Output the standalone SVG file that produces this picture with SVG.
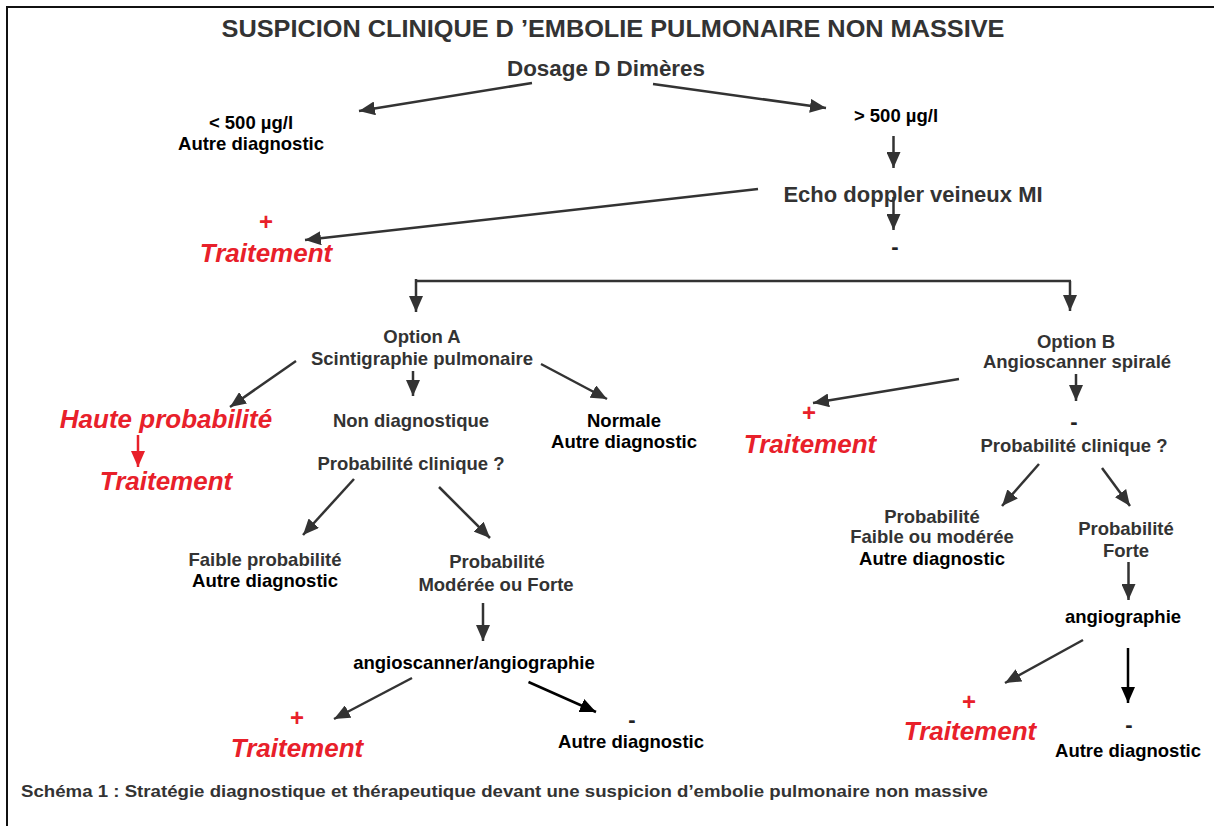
<svg xmlns="http://www.w3.org/2000/svg" width="1214" height="826" viewBox="0 0 1214 826">
<defs>
<marker id="ah" markerUnits="userSpaceOnUse" markerWidth="16" markerHeight="14" refX="16" refY="7" orient="auto"><path d="M0,0 L16,7 L0,14 z" fill="#333"/></marker>
<marker id="ahk" markerUnits="userSpaceOnUse" markerWidth="16" markerHeight="14" refX="16" refY="7" orient="auto"><path d="M0,0 L16,7 L0,14 z" fill="#000"/></marker>
<marker id="ahr" markerUnits="userSpaceOnUse" markerWidth="16" markerHeight="14" refX="16" refY="7" orient="auto"><path d="M0,0 L16,7 L0,14 z" fill="#e8202a"/></marker>
</defs>
<style>
text{font-family:"Liberation Sans",Arial,sans-serif;font-weight:bold;text-anchor:middle}
.g{fill:#333}
.k{fill:#000}
.n{font-size:18.5px}
.big{font-size:22px}
.red{fill:#e8202a;font-style:italic;font-size:26px}
.plus{fill:#e8202a;font-size:24px}
.dash{font-size:22px;fill:#222}
.c line,.c path{stroke:#333;stroke-width:2.5;fill:none;marker-end:url(#ah)}
.c .bk{stroke:#000;marker-end:url(#ahk)}
.c .rd{stroke:#e8202a;marker-end:url(#ahr)}
.c .nm{marker-end:none}
</style>
<rect width="1214" height="826" fill="#fff"/>
<rect x="7" y="7" width="1240" height="850" fill="none" stroke="#111" stroke-width="2"/>

<g id="title"><text class="g" x="613" y="37" font-size="24" textLength="783" lengthAdjust="spacingAndGlyphs">SUSPICION CLINIQUE D ’EMBOLIE PULMONAIRE NON MASSIVE</text></g>
<g id="dosage"><text class="g big" x="606" y="76" textLength="198" lengthAdjust="spacingAndGlyphs">Dosage D Dimères</text></g>
<g id="inf500"><text class="k n" x="251" y="129">&lt; 500 µg/l</text><text class="k n" x="251" y="150">Autre diagnostic</text></g>
<g id="sup500"><text class="k n" x="896" y="122">&gt; 500 µg/l</text></g>
<g id="echo"><text class="g big" x="913" y="202">Echo doppler veineux MI</text></g>
<g id="trait1"><text class="plus" x="266" y="230">+</text><text class="red" x="266" y="262">Traitement</text></g>
<g id="echoneg"><text class="dash" x="895" y="254">-</text></g>
<g id="optionA"><text class="g n" x="422" y="343">Option A</text><text class="g n" x="422" y="365">Scintigraphie pulmonaire</text></g>
<g id="haute"><text class="red" x="166" y="428">Haute probabilité</text></g>
<g id="trait2"><text class="red" x="166" y="490">Traitement</text></g>
<g id="nondiag"><text class="g n" x="411" y="427">Non diagnostique</text><text class="g n" x="411" y="470">Probabilité clinique ?</text></g>
<g id="normale"><text class="k n" x="624" y="427">Normale</text><text class="k n" x="624" y="448">Autre diagnostic</text></g>
<g id="faibleA"><text class="g n" x="265" y="566">Faible probabilité</text><text class="k n" x="265" y="587">Autre diagnostic</text></g>
<g id="moderee"><text class="g n" x="497" y="568">Probabilité</text><text class="g n" x="496" y="591">Modérée ou Forte</text></g>
<g id="angioA"><text class="k n" x="474" y="669">angioscanner/angiographie</text></g>
<g id="trait3"><text class="plus" x="297" y="726">+</text><text class="red" x="297" y="757">Traitement</text></g>
<g id="autreA"><text class="dash k" x="632" y="727">-</text><text class="k n" x="631" y="748">Autre diagnostic</text></g>
<g id="optionB"><text class="g n" x="1076" y="348">Option B</text><text class="g n" x="1077" y="368">Angioscanner spiralé</text></g>
<g id="trait4"><text class="plus" x="809" y="421">+</text><text class="red" x="810" y="453">Traitement</text></g>
<g id="probB"><text class="dash g" x="1074" y="429">-</text><text class="g n" x="1074" y="452">Probabilité clinique ?</text></g>
<g id="faibleB"><text class="g n" x="932" y="523">Probabilité</text><text class="g n" x="932" y="543">Faible ou modérée</text><text class="k n" x="932" y="565">Autre diagnostic</text></g>
<g id="forteB"><text class="g n" x="1126" y="535">Probabilité</text><text class="g n" x="1126" y="557">Forte</text></g>
<g id="angioB"><text class="k n" x="1123" y="623">angiographie</text></g>
<g id="trait5"><text class="plus" x="969" y="710">+</text><text class="red" x="970" y="740">Traitement</text></g>
<g id="autreB"><text class="dash k" x="1129" y="732">-</text><text class="k n" x="1128" y="757">Autre diagnostic</text></g>
<g id="caption"><text class="g" x="21" y="797" font-size="17" style="text-anchor:start" textLength="967" lengthAdjust="spacingAndGlyphs">Schéma 1 : Stratégie diagnostique et thérapeutique devant une suspicion d’embolie pulmonaire non massive</text></g>

<g id="connectors" class="c">
<line x1="532" y1="83" x2="359" y2="111"/>
<line x1="653" y1="84" x2="826" y2="108"/>
<line x1="893.5" y1="136" x2="893.5" y2="168"/>
<line x1="758" y1="189" x2="305" y2="240"/>
<line x1="893.5" y1="197" x2="893.5" y2="230"/>
<line class="nm" x1="415" y1="281" x2="1071" y2="281"/>
<line x1="416" y1="279" x2="416" y2="312"/>
<line x1="1070" y1="281" x2="1070" y2="311"/>
<line x1="296" y1="361" x2="230" y2="407"/>
<line x1="413" y1="371" x2="413" y2="396"/>
<line x1="541" y1="364" x2="607" y2="399"/>
<line class="rd" x1="138" y1="435" x2="138" y2="467"/>
<line x1="354" y1="479" x2="303" y2="535"/>
<line x1="439" y1="487" x2="490" y2="538"/>
<line x1="959" y1="379" x2="813" y2="403"/>
<line x1="1076" y1="374" x2="1076" y2="401"/>
<line x1="1039" y1="464" x2="1002" y2="506"/>
<line x1="1102" y1="468" x2="1130" y2="506"/>
<line x1="1128.5" y1="562" x2="1128.5" y2="600"/>
<line x1="483" y1="603" x2="483" y2="641"/>
<line x1="412" y1="678" x2="334" y2="719"/>
<line class="bk" x1="528.5" y1="682" x2="596" y2="712"/>
<line x1="1083" y1="640" x2="1005" y2="683"/>
<line class="bk" x1="1128" y1="648" x2="1128" y2="703"/>
</g>
</svg>
